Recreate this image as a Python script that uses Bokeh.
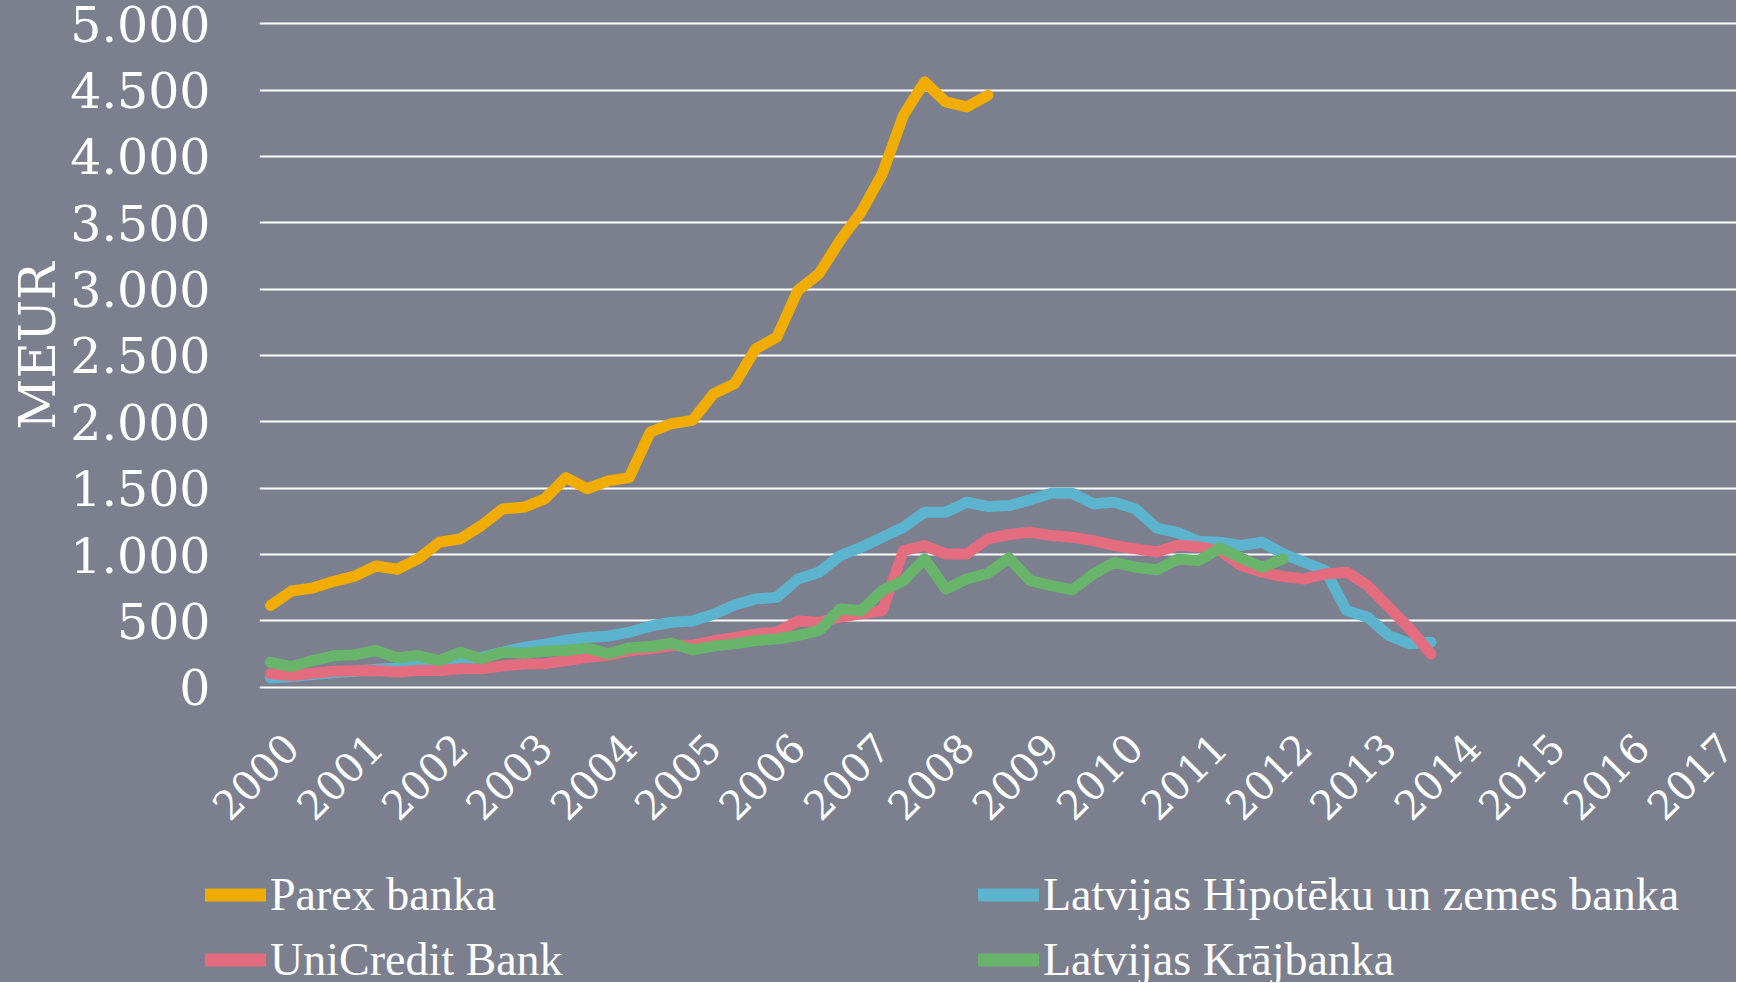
from bokeh.plotting import figure
from bokeh.models import FixedTicker, Legend, LegendItem, Range1d, ColumnDataSource
from bokeh.layouts import column
from bokeh.embed import file_html
from bokeh.resources import INLINE

# ---- data (quarterly, 2000 Q1 = index 0), MEUR ----
years = [str(y) for y in range(2000, 2018)]

parex = [616, 725, 748, 798, 838, 914, 889, 967, 1093, 1118, 1219, 1344, 1356, 1420,
         1580, 1496, 1555, 1580, 1923, 1986, 2011, 2212, 2288, 2551, 2639, 2991, 3117,
         3368, 3582, 3871, 4311, 4562, 4411, 4373, 4461]

hipoteku = [70, 80, 95, 110, 120, 135, 145, 160, 180, 200, 225, 265, 300, 325, 355, 375,
            385, 415, 460, 490, 500, 550, 620, 666, 678, 816, 867, 992, 1055, 1130, 1206,
            1319, 1319, 1394, 1362, 1369, 1412, 1462, 1462, 1382, 1394, 1344, 1200, 1165,
            1100, 1093, 1068, 1093, 1005, 942, 879, 578, 528, 390, 327, 339]

unicredit = [101, 88, 105, 120, 125, 126, 115, 126, 126, 140, 140, 160, 175, 178, 200, 225,
             240, 275, 290, 312, 318, 350, 375, 402, 414, 500, 490, 528, 553, 578, 1030,
             1068, 1005, 1005, 1118, 1151, 1168, 1143, 1130, 1105, 1068, 1043, 1020, 1070,
             1058, 1030, 917, 867, 834, 816, 854, 867, 766, 603, 440, 251]

krajbanka = [188, 156, 201, 239, 244, 277, 222, 239, 201, 264, 214, 264, 256, 271, 277,
             297, 252, 297, 307, 332, 282, 310, 327, 352, 364, 390, 427, 590, 578, 729, 804,
             967, 741, 816, 859, 974, 804, 766, 733, 854, 942, 904, 885, 965, 955, 1050, 974,
             904, 967]

names = ["Parex banka", "Latvijas Hipotēku un zemes banka", "UniCredit Bank", "Latvijas Krājbanka"]
colors = ["#F0AD00", "#5CB3CD", "#E36C7E", "#68B46A"]

BG = "#7B7F8E"
SERIF = "DejaVu Serif"

W = 1736
H1, H2 = 846, 136
FRAME_L, FRAME_B = 259, 691

series = [parex, hipoteku, unicredit, krajbanka]
sources = [ColumnDataSource(dict(x=list(range(len(v))), y=v)) for v in series]

# ---------------- main chart ----------------
p = figure(width=W, height=H1, output_backend="svg", toolbar_location=None,
           x_range=Range1d(-0.521, (W - 270) / 21.1), y_range=Range1d(-32, 5175),
           min_border_left=FRAME_L, min_border_right=0, min_border_top=0,
           min_border_bottom=H1 - FRAME_B, styles={"background-color": BG})
p.frame_align = False
p.background_fill_color = BG
p.border_fill_color = BG
p.outline_line_color = None

for idx in [1, 2, 3, 0]:
    p.line("x", "y", source=sources[idx], line_color=colors[idx], line_width=11,
           line_join="round", line_cap="round")

# y axis
yt = list(range(0, 5001, 500))
p.yaxis.ticker = FixedTicker(ticks=yt)
p.yaxis.major_label_overrides = {v: f"{v:,}".replace(",", ".") for v in yt}
p.yaxis.major_label_text_font = SERIF
p.yaxis.major_label_text_font_size = "49px"
p.yaxis.major_label_text_color = "white"
p.yaxis.major_label_standoff = 49
p.yaxis.major_tick_line_color = None
p.yaxis.major_tick_out = 0
p.yaxis.minor_tick_line_color = None
p.yaxis.minor_tick_out = 0
p.yaxis.axis_line_color = None
p.yaxis.axis_label = "MEUR"
p.yaxis.axis_label_text_font = SERIF
p.yaxis.axis_label_text_font_size = "50px"
p.yaxis.axis_label_text_font_style = "normal"
p.yaxis.axis_label_text_color = "white"
p.yaxis.axis_label_standoff = 0

p.ygrid.ticker = FixedTicker(ticks=yt)
p.ygrid.grid_line_color = "white"
p.ygrid.grid_line_width = 2
p.xgrid.grid_line_color = None

# x axis: year labels every 4 quarters
xt = [4 * k + 1 for k in range(len(years))]
p.xaxis.ticker = FixedTicker(ticks=xt)
p.xaxis.major_label_overrides = {t: y for t, y in zip(xt, years)}
p.xaxis.major_label_orientation = 0.785398
p.xaxis.major_label_text_font = SERIF
p.xaxis.major_label_text_font_size = "40px"
p.xaxis.major_label_text_color = "white"
p.xaxis.major_label_standoff = 49
p.xaxis.major_tick_line_color = None
p.xaxis.major_tick_out = 0
p.xaxis.minor_tick_line_color = None
p.xaxis.minor_tick_out = 0
p.xaxis.axis_line_color = None

# ---------------- legend strip ----------------
p2 = figure(width=W, height=H2, output_backend="svg", toolbar_location=None,
            x_range=Range1d(-200, -199), y_range=Range1d(-200, -199),
            x_axis_type=None, y_axis_type=None,
            min_border_left=0, min_border_right=0, min_border_top=0, min_border_bottom=0,
            styles={"background-color": BG})
p2.frame_align = False
p2.background_fill_color = BG
p2.border_fill_color = BG
p2.outline_line_color = None
p2.grid.visible = False

# same series, out of view here: they only supply the legend swatches
proxies = {}
for idx in range(4):
    proxies[idx] = p2.line("x", "y", source=sources[idx], line_color=colors[idx],
                           line_width=13, line_cap="round")

def make_legend(items, vx, vy):
    return Legend(items=items, location=(vx, vy), orientation="vertical",
                  label_text_font="Liberation Serif", label_text_font_size="46px",
                  label_text_color="white", glyph_width=61, glyph_height=51,
                  label_height=51, label_standoff=4, spacing=12, padding=0, margin=0,
                  border_line_color=None, background_fill_alpha=0)

leg1 = make_legend([LegendItem(label=names[0], renderers=[proxies[0]]),
                    LegendItem(label=names[2], renderers=[proxies[2]])], 205, -4)
leg2 = make_legend([LegendItem(label=names[1], renderers=[proxies[1]]),
                    LegendItem(label=names[3], renderers=[proxies[3]])], 978, -4)
p2.add_layout(leg1)
p2.add_layout(leg2)

layout = column(p, p2, spacing=0, styles={"background-color": BG})
open("out.html", "w").write(file_html(layout, INLINE))
